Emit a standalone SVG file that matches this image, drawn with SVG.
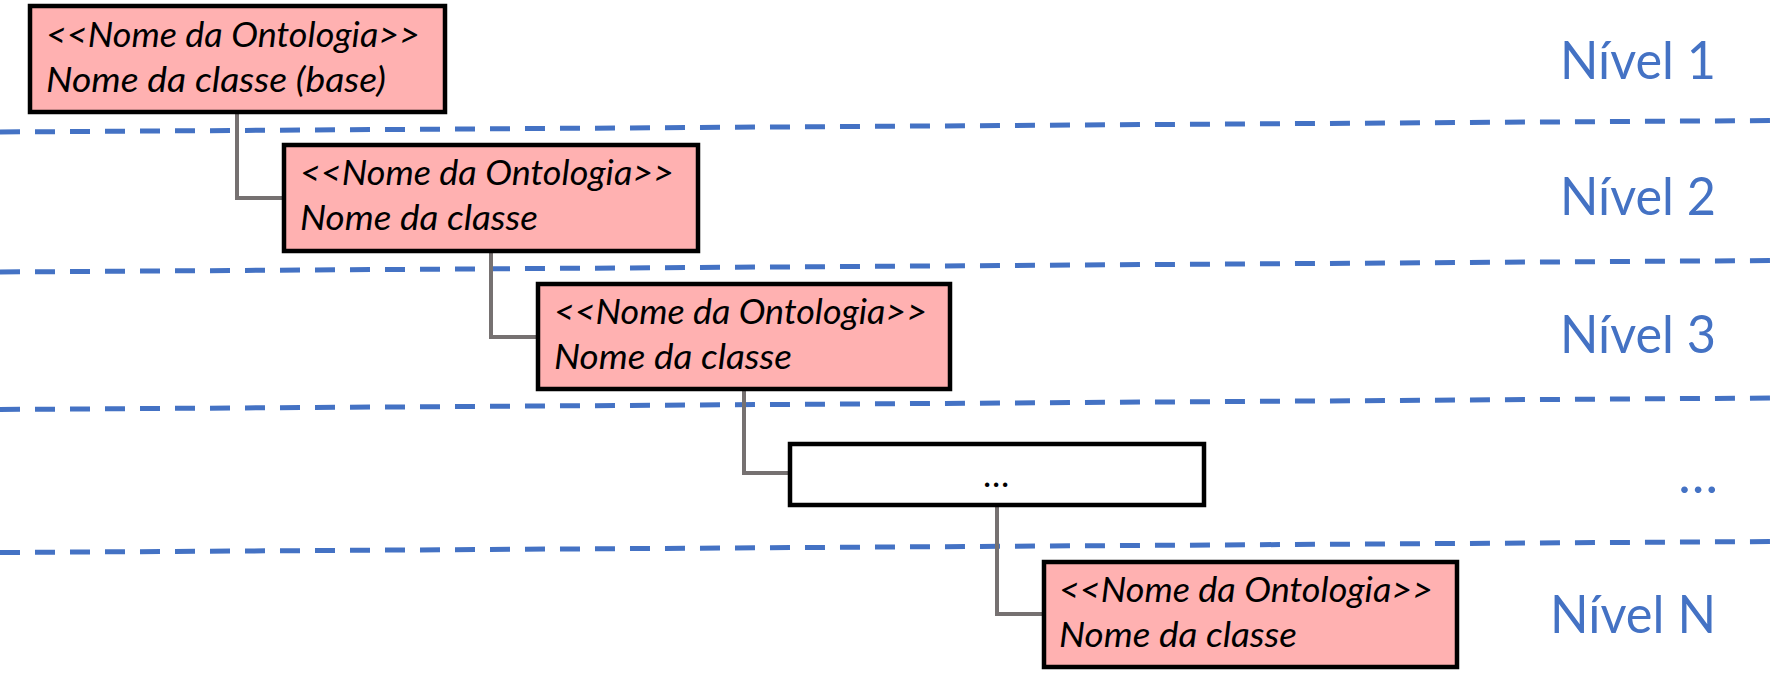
<svg xmlns="http://www.w3.org/2000/svg" width="1775" height="685" viewBox="0 0 1775 685">
<style>
.box{fill:#FFB1B1;stroke:#000;stroke-width:4.5}
.empty{fill:#FFFFFF;stroke:#000;stroke-width:4.5}
.t{font-family:Lato,"Open Sans","Liberation Sans",sans-serif;font-style:italic;font-size:35px;fill:#000}
.lvl{font-family:Lato,"Open Sans","Liberation Sans",sans-serif;font-size:53px;fill:#4472C4;text-anchor:end}
.dash{stroke:#4472C4;stroke-width:5;stroke-dasharray:20 15;fill:none}
.conn{stroke:#767171;stroke-width:4;fill:none}
</style>
<rect width="1775" height="685" fill="#FFFFFF"/>
<g id="levels">
<line class="dash" x1="0" y1="132" x2="1775" y2="120.5"/>
<line class="dash" x1="0" y1="272" x2="1775" y2="260.5"/>
<line class="dash" x1="0" y1="409.5" x2="1775" y2="398"/>
<line class="dash" x1="0" y1="552.5" x2="1775" y2="541.5"/>
<text class="lvl" x="1716" y="79" textLength="156" lengthAdjust="spacingAndGlyphs">Nível 1</text>
<text class="lvl" x="1716" y="215" textLength="156" lengthAdjust="spacingAndGlyphs">Nível 2</text>
<text class="lvl" x="1716" y="353" textLength="156" lengthAdjust="spacingAndGlyphs">Nível 3</text>
<text class="lvl" x="1718" y="493">…</text>
<text class="lvl" x="1716" y="633" textLength="166" lengthAdjust="spacingAndGlyphs">Nível N</text>
</g>
<g id="connectors">
<path class="conn" d="M237,112 V198 H284"/>
<path class="conn" d="M491,251 V337 H538"/>
<path class="conn" d="M744,389 V473 H790"/>
<path class="conn" d="M997,505 V614 H1044"/>
</g>
<g id="node1">
<rect class="box" x="30" y="6" width="415" height="106"/>
<text class="t" x="46" y="47" textLength="374" lengthAdjust="spacingAndGlyphs">&lt;&lt;Nome da Ontologia&gt;&gt;</text>
<text class="t" x="46" y="92" textLength="340" lengthAdjust="spacingAndGlyphs">Nome da classe (base)</text>
</g>
<g id="node2">
<rect class="box" x="284" y="145" width="414" height="106"/>
<text class="t" x="300" y="185" textLength="374" lengthAdjust="spacingAndGlyphs">&lt;&lt;Nome da Ontologia&gt;&gt;</text>
<text class="t" x="300" y="230" textLength="238" lengthAdjust="spacingAndGlyphs">Nome da classe</text>
</g>
<g id="node3">
<rect class="box" x="538" y="284" width="412" height="105"/>
<text class="t" x="554" y="324" textLength="373" lengthAdjust="spacingAndGlyphs">&lt;&lt;Nome da Ontologia&gt;&gt;</text>
<text class="t" x="554" y="369" textLength="238" lengthAdjust="spacingAndGlyphs">Nome da classe</text>
</g>
<g id="node4">
<rect class="empty" x="790" y="444" width="414" height="61"/>
<text class="t" x="996" y="487" text-anchor="middle" style="font-style:normal">…</text>
</g>
<g id="node5">
<rect class="box" x="1044" y="562" width="413" height="105"/>
<text class="t" x="1059" y="602" textLength="374" lengthAdjust="spacingAndGlyphs">&lt;&lt;Nome da Ontologia&gt;&gt;</text>
<text class="t" x="1059" y="647" textLength="238" lengthAdjust="spacingAndGlyphs">Nome da classe</text>
</g>
</svg>
